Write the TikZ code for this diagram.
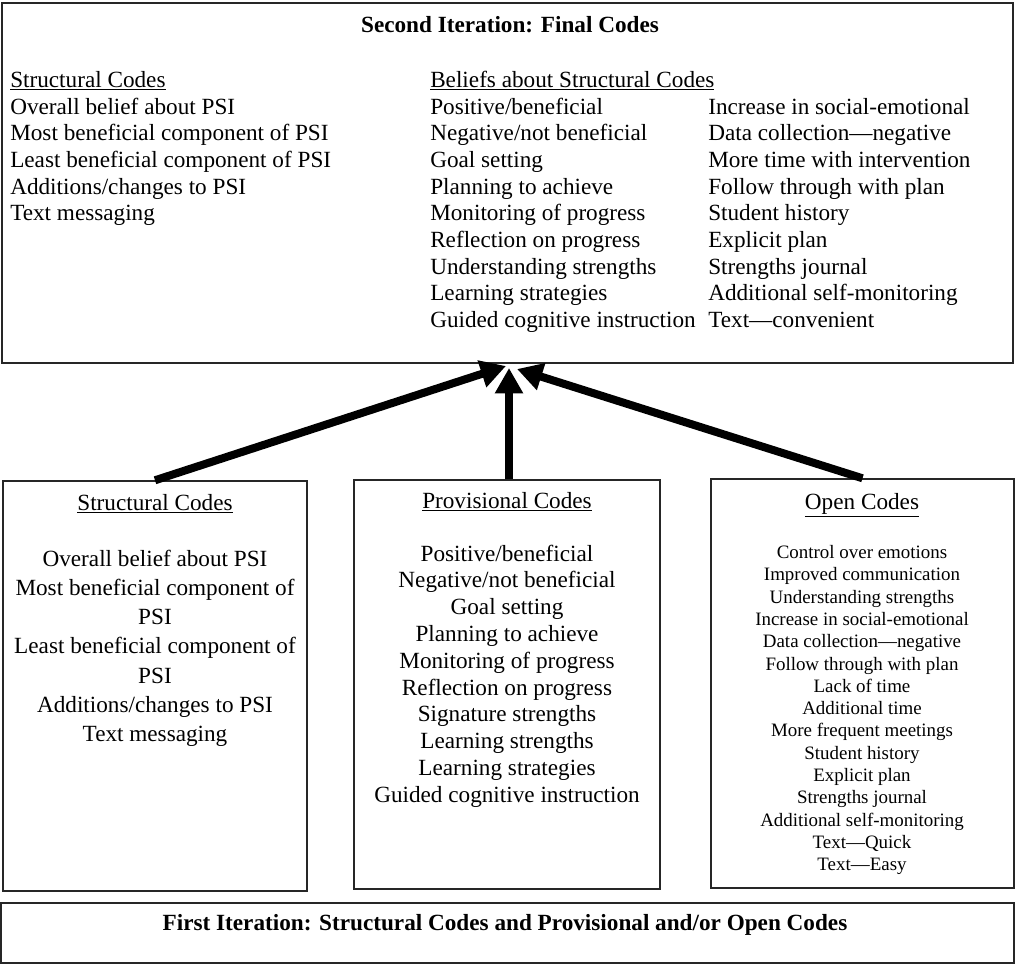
\documentclass[tikz,border=0pt]{standalone}
\usepackage{fontspec}
\setmainfont{Liberation Serif}
\usetikzlibrary{arrows.meta,fit,calc}

\begin{document}
\begin{tikzpicture}[x=0.75pt,y=-0.75pt,
  box/.style={draw=black!85, line width=1.1pt, inner sep=0pt},
  txt/.style={inner sep=0pt, font=\fontsize{17.4}{20}\selectfont},
  small/.style={inner sep=0pt, font=\fontsize{14.2}{16.7}\selectfont},
  head/.style={inner sep=0pt, font=\fontsize{17.4}{20}\selectfont\bfseries},
  flow/.style={line width=6pt, -{Triangle[length=19pt,width=20pt]}}
]
\useasboundingbox (0,0) rectangle (1016,965);

% boxes
\node[box, fit={(2,3) (1013,363)}] (T) {};
\node[box, fit={(3,481) (307,891)}] (L) {};
\node[box, fit={(354,480) (660,889)}] (M) {};
\node[box, fit={(711,479) (1014,888)}] (R) {};
\node[box, fit={(1,903) (1014,963)}] (B) {};

% second iteration
\node[head, anchor=base] (title) at (510,32) {Second Iteration: Final Codes};
\node[txt, anchor=base west] (sh) at (10,87) {\underline{Structural Codes}};
\node[txt, anchor=base west] (bh) at (430,87) {\underline{Beliefs about Structural Codes}};
\foreach \t [count=\i from 0] in {Overall belief about PSI, Most beneficial component of PSI,
  Least beneficial component of PSI, Additions/changes to PSI, Text messaging}
  \node[txt, anchor=base west] (s\i) at (10,114+26.67*\i) {\t};
\foreach \t [count=\i from 0] in {Positive/beneficial, Negative/not beneficial, Goal setting,
  Planning to achieve, Monitoring of progress, Reflection on progress,
  Understanding strengths, Learning strategies, Guided cognitive instruction}
  \node[txt, anchor=base west] (b\i) at (430,114+26.67*\i) {\t};
\foreach \t [count=\i from 0] in {Increase in social-emotional, Data collection—negative,
  More time with intervention, Follow through with plan, Student history, Explicit plan,
  Strengths journal, Additional self-monitoring, Text—convenient}
  \node[txt, anchor=base west] (c\i) at (708,114+26.67*\i) {\t};

% first iteration: structural codes
\node[txt, anchor=base] (lh) at (155,510) {\underline{Structural Codes}};
\foreach \t [count=\i from 0] in {Overall belief about PSI, Most beneficial component of, PSI,
  Least beneficial component of, PSI, Additions/changes to PSI, Text messaging}
  \node[txt, anchor=base] (l\i) at (155,566+29.3*\i) {\t};

% first iteration: provisional codes
\node[txt, anchor=base] (ph) at (507,508) {\underline{Provisional Codes}};
\foreach \t [count=\i from 0] in {Positive/beneficial, Negative/not beneficial, Goal setting,
  Planning to achieve, Monitoring of progress, Reflection on progress, Signature strengths,
  Learning strengths, Learning strategies, Guided cognitive instruction}
  \node[txt, anchor=base] (p\i) at (507,561+26.8*\i) {\t};

% first iteration: open codes
\node[txt, anchor=base] (oh) at (862,509) {\underline{Open Codes}};
\foreach \t [count=\i from 0] in {Control over emotions, Improved communication,
  Understanding strengths, Increase in social-emotional, Data collection—negative,
  Follow through with plan, Lack of time, Additional time, More frequent meetings,
  Student history, Explicit plan, Strengths journal, Additional self-monitoring,
  Text—Quick, Text—Easy}
  \node[small, anchor=base] (o\i) at (862,558.5+22.3*\i) {\t};

\node[head, anchor=base] (foot) at (505,930)
  {First Iteration: Structural Codes and Provisional and/or Open Codes};

% connectors
\coordinate (eL) at (506,366);
\coordinate (eM) at (509,368);
\coordinate (eR) at (517,369);
\draw[flow] (L.north) -- (eL);
\draw[flow] (eM |- M.north) -- (eM);
\draw[flow] (R.north) -- (eR);
\end{tikzpicture}
\end{document}
